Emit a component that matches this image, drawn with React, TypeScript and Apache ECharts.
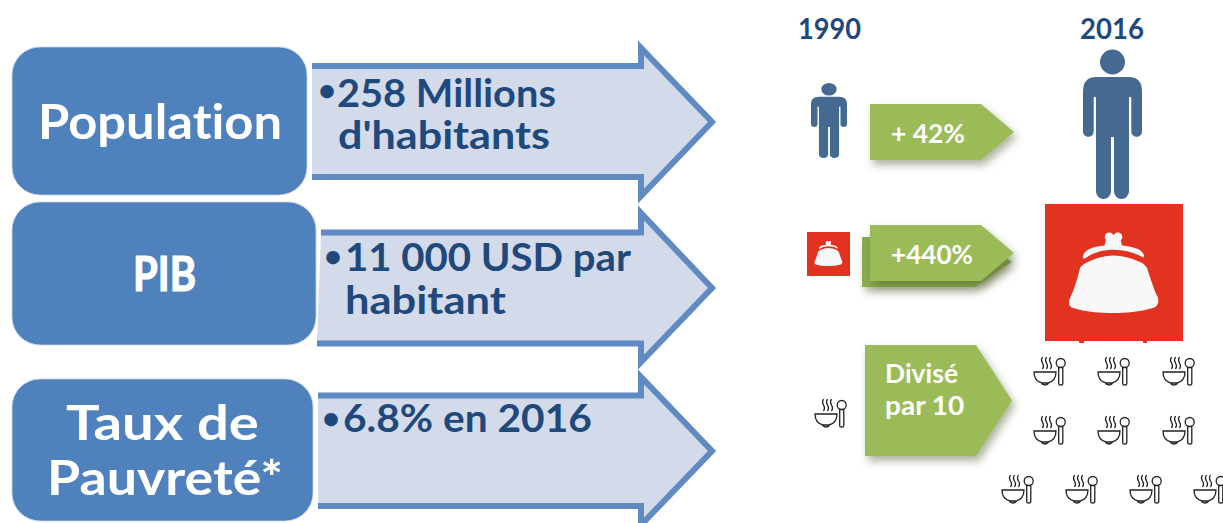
import React, { useEffect, useRef } from "react";
import * as echarts from "echarts";

// ---- content ----
const categories = ["Population", "PIB", ["Taux de", "Pauvreté*"]];
const bullet = "•";
const facts = [["258 Millions", "d'habitants"], ["11 000 USD par", "habitant"], ["6.8% en 2016"]];
const years = ["1990", "2016"];
const changes = ["+ 42%", "+440%", ["Divisé", "par 10"]];

// ---- styling ----
const FONT = "Lato, 'Noto Sans', sans-serif";
const NAVY = "#1f497d";
const BLUE = "#4f81bd";
const GREEN = "#9bbb59";
const GREEN_DARK = "#8aab50";
const RED = "#e1331f";
const SLATE = "#456a92";

const PERSON =
  "M13 27.5 L46 27.5 Q59 27.5 59 42 L59 82 A5.35 5.35 0 0 1 48.3 82 L48.3 47.5 L46 47.5 L46 142 A7.5 7.5 0 0 1 31 142 L31 87.5 L28 87.5 L28 142 A7.5 7.5 0 0 1 13 142 L13 47.5 L10.7 47.5 L10.7 82 A5.35 5.35 0 0 1 0 82 L0 42 Q0 27.5 13 27.5 Z M42 12.5 A12.5 12.5 0 1 1 17 12.5 A12.5 12.5 0 1 1 42 12.5 Z";
const PURSE =
  "M43 58 Q68 45 95 58 C98 59 100 61 102 64 C106 76 109 86 113 94 C114 99 112 103 108 104 C95 108 80 109 68 109 C55 109 40 108 28 104 C24 103 23 98 25 94 C29 86 32 76 35 64 C37 61 40 59 43 58 Z " +
  "M38 52 C39 48 43 45 48 43.5 C60 40 78 40 90 44 C94 45 98 48 99 51 C99 53 98.5 54 98 53.5 C80 43 55 43 40 54.5 C38 55 37.5 54 38 52 Z " +
  "M61 35 L75.5 35 L77 41.5 L59.5 41.5 Z " +
  "M68.8 33 A4.5 4.5 0 1 1 59.8 33 A4.5 4.5 0 1 1 68.8 33 Z M77.3 33 A4.5 4.5 0 1 1 68.3 33 A4.5 4.5 0 1 1 77.3 33 Z";
const BOWL =
  "M0 15 L22 15 Q22 24 14 26 L8 26 Q0 24 0 15 Z M7.5 26.5 Q11 29.5 14.5 26.5 " +
  "M31.2 6 A4.5 4.5 0 1 1 22.2 6 A4.5 4.5 0 1 1 31.2 6 Z M24.7 10.5 L24.7 27 Q24.7 28 26.7 28 Q28.8 28 28.8 27 L28.8 10.5 " +
  "M8.5 0 Q6.5 3 8.5 6 Q10.5 9 8.5 12 M12.5 0 Q10.5 3 12.5 6 Q14.5 9 12.5 12 M16.5 0 Q14.5 3 16.5 6 Q18.5 9 16.5 12";

echarts.graphic.registerShape("person", echarts.graphic.extendPath(PERSON, {}) as any);
echarts.graphic.registerShape("purse", echarts.graphic.extendPath(PURSE, {}) as any);
echarts.graphic.registerShape("bowl", echarts.graphic.extendPath(BOWL, {}) as any);

const measure = (() => {
  const ctx = document.createElement("canvas").getContext("2d")! as any;
  return (t: string, size: number) => {
    ctx.font = `bold ${size}px Lato`;
    // break ligatures for measuring so the width matches the rendered text
    return ctx.measureText(t.split("").join("\u200c")).width;
  };
})();

// text fitted between x0 and x1, sitting on the given baseline
function fit(text: string, x0: number, x1: number, baseline: number, size: number, fill: string, weight = 0) {
  return {
    type: "text",
    x: x0,
    y: baseline - size * 0.355,
    scaleX: (x1 - x0) / measure(text, size),
    silent: true,
    z: 10,
    style: {
      text,
      fontFamily: FONT,
      fontWeight: "bold",
      fontSize: size,
      fill,
      align: "left",
      verticalAlign: "middle",
      ...(weight ? { stroke: fill, lineWidth: weight } : {}),
    },
  };
}

function dot(cx: number, cy: number) {
  return {
    type: "text",
    x: cx,
    y: cy,
    silent: true,
    z: 10,
    style: { text: bullet, fontFamily: FONT, fontWeight: "bold", fontSize: 31, fill: NAVY, align: "center", verticalAlign: "middle" },
  };
}

function blueArrow(l0: number, l1: number, top: number, bottom: number, headTop: number, headBottom: number, tip: number, tipY: number) {
  const points = [
    [l0, top],
    [641, top],
    [641, headTop],
    [tip, tipY],
    [641, headBottom],
    [641, bottom],
    [l1, bottom],
  ];
  return [
    { type: "polygon", shape: { points }, style: { fill: "#d3dbea" } },
    { type: "polyline", shape: { points }, style: { fill: "none", stroke: "#5f8ac2", lineWidth: 6, lineJoin: "miter", miterLimit: 6 } },
  ];
}

function box(x: number, y: number, width: number, height: number) {
  return {
    type: "rect",
    shape: { x, y, width, height, r: 28 },
    style: { fill: BLUE, stroke: "#c4d5ea", lineWidth: 0.8 },
  };
}

function greenArrow(x0: number, x1: number, tip: number, top: number, bottom: number, fill: string) {
  return {
    type: "polygon",
    shape: { points: [[x0, top], [x1, top], [tip, (top + bottom) / 2], [x1, bottom], [x0, bottom]] },
    style: { fill, shadowBlur: 8, shadowOffsetX: 3, shadowOffsetY: 5, shadowColor: "rgba(70,85,40,0.45)" },
  };
}

function person(x: number, y: number, scaleX: number, scaleY: number) {
  return { type: "person", x, y, scaleX, scaleY, style: { fill: SLATE } };
}

function purse(x: number, y: number, size: number, h: number) {
  const s = size / 138;
  return [
    { type: "rect", shape: { x, y, width: size, height: h }, style: { fill: RED } },
    { type: "purse", x, y, scaleX: s, scaleY: s, style: { fill: "#f8f8f8" } },
  ];
}

function bowl(x: number, y: number) {
  return { type: "bowl", x, y, style: { fill: "none", stroke: "#222", lineWidth: 1.3 } };
}

export default function App() {
  const ref = useRef<HTMLDivElement>(null);
  useEffect(() => {
    const chart = echarts.init(ref.current!, null, { renderer: "svg" });
    const elements: any[] = [
      ...blueArrow(312, 312, 66, 177, 48, 196, 712, 122),
      ...blueArrow(321, 317, 232.5, 343.5, 213, 362, 712, 288),
      ...blueArrow(318, 318, 395.5, 506, 377, 525, 712, 451),
      box(12, 47, 295, 148),
      box(12, 202, 304, 143),
      box(12, 379, 301, 142),

      fit(categories[0] as string, 38, 282, 138, 48, "#ffffff"),
      fit(categories[1] as string, 133, 196, 289, 47, "#ffffff", 1.2),
      fit((categories[2] as string[])[0], 66, 259, 438, 48, "#ffffff"),
      fit((categories[2] as string[])[1], 47, 283, 494, 48, "#ffffff"),

      dot(327, 89),
      fit(facts[0][0], 337, 556, 105, 39, NAVY),
      fit(facts[0][1], 338, 550, 148, 39, NAVY),
      dot(333, 255),
      fit(facts[1][0], 345, 631, 270, 39, NAVY),
      fit(facts[1][1], 345, 506, 313, 39, NAVY),
      dot(331, 417),
      fit(facts[2][0], 343, 592, 431, 39, NAVY),

      fit(years[0], 798, 861, 38, 29, NAVY),
      fit(years[1], 1080, 1144, 38, 29, NAVY),

      person(811, 83, 36 / 59, 75 / 149.5),
      person(1083, 49.5, 1, 1),

      greenArrow(870, 981, 1014, 104, 160, GREEN),
      fit(changes[0] as string, 891, 965, 142, 27, "#ffffff"),

      greenArrow(862, 975, 1012, 237, 287, GREEN_DARK),
      greenArrow(870, 981, 1014, 225, 281, GREEN),
      fit(changes[1] as string, 891, 973, 263, 27, "#ffffff"),

      greenArrow(865, 976, 1012, 345, 456, GREEN),
      fit((changes[2] as string[])[0], 885, 958, 382, 26, "#ffffff"),
      fit((changes[2] as string[])[1], 885, 965, 414, 26, "#ffffff"),

      ...purse(807, 232, 43, 44),
      ...purse(1045, 204, 138, 137),
      { type: "rect", shape: { x: 1079, y: 341, width: 5, height: 2 }, style: { fill: RED } },
      { type: "rect", shape: { x: 1143, y: 341, width: 4, height: 2 }, style: { fill: RED } },

      bowl(815, 399),
      bowl(1034, 357), bowl(1098, 357), bowl(1163, 357),
      bowl(1034, 416), bowl(1098, 416), bowl(1163, 416),
      bowl(1002, 475), bowl(1066, 475), bowl(1130, 475), bowl(1194, 475),
    ];
    chart.setOption({ animation: false, backgroundColor: "#ffffff", graphic: { elements } });
    return () => chart.dispose();
  }, []);
  return (
    <div
      ref={ref}
      style={{ position: "fixed", left: 0, top: 0, width: 1223, height: 523, fontVariantLigatures: "none" }}
    />
  );
}
